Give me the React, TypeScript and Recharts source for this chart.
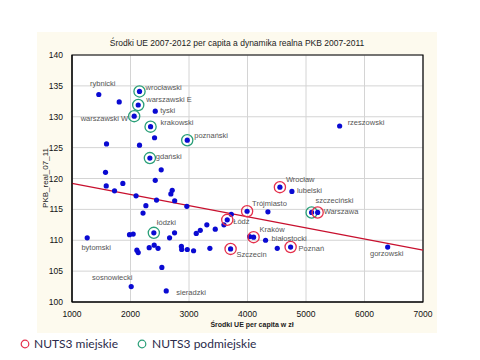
import { ScatterChart, Scatter, XAxis, YAxis, CartesianGrid, ReferenceLine, ReferenceArea, Label } from "recharts"

// labelled NUTS3 regions: m = miejskie, p = podmiejskie, "" = other
const labelNames = [
  "rybnicki", "wrocławski", "warszawski E", "tyski", "warszawski W", "krakowski",
  "poznański", "gdański", "rzeszowski", "łódzki", "bytomski", "sosnowiecki",
  "sieradzki", "Łódź", "Szczecin", "Trójmiasto", "Wrocław", "lubelski",
  "szczeciński", "Warszawa", "Kraków", "białostocki", "Poznań", "gorzowski",
]
const labelSrodki = [
  1458, 2154, 2132, 2423, 2063, 2343,
  2970, 2331, 5575, 2399, 1260, 2012,
  2611, 3654, 3711, 3993, 4554, 4759,
  5096, 5199, 4104, 4309, 4737, 6396,
]
const labelPkb = [
  133.6, 134.1, 131.9, 130.9, 130.1, 128.4,
  126.2, 123.3, 128.5, 111.2, 110.4, 102.5,
  101.8, 113.3, 108.6, 114.7, 118.6, 117.9,
  114.5, 114.5, 110.5, 110.0, 108.9, 108.9,
]
const labelTyp = [
  "", "p", "p", "", "p", "p",
  "p", "p", "", "p", "", "",
  "", "m", "m", "m", "m", "",
  "p", "m", "m", "", "m", "",
]

// remaining regions without labels
const otherSrodki = [
  1807, 2411, 1590, 2154, 2525, 1573, 2423, 1585, 1869, 1727, 2095, 2263,
  2214, 2445, 2713, 2690, 2755, 2963, 1983, 2046, 2753, 2668, 2109, 2132,
  2320, 2405, 2471, 2870, 2875, 2970, 3078, 2536, 3124, 3193, 3305, 3449,
  3597, 3723, 3357, 4036, 4349, 4509,
]
const otherPkb = [
  132.4, 126.6, 125.6, 125.4, 121.4, 121.0, 119.7, 118.8, 119.2, 118.0, 117.2, 115.6,
  114.4, 116.5, 118.1, 117.5, 116.4, 115.5, 110.9, 111.0, 111.2, 110.4, 108.4, 108.0,
  108.8, 109.2, 108.7, 109.0, 108.5, 108.5, 108.3, 105.6, 111.1, 111.6, 112.5, 111.8,
  112.5, 114.2, 108.7, 110.6, 114.6, 108.7,
]

// fitted line end points
const trendX = [1000, 7000]
const trendY = [119.2, 108.4]

const xTicks = [1000, 2000, 3000, 4000, 5000, 6000, 7000]
const yTicks = [100, 105, 110, 115, 120, 125, 130, 135, 140]

// where each label sits relative to its point
const labelPos: Record<string, [number, number, string]> = {
  "rybnicki": [4, -11, "middle"],
  "wrocławski": [6, -3, "start"],
  "warszawski E": [8, -5, "start"],
  "tyski": [5, 0, "start"],
  "warszawski W": [-6, 3, "end"],
  "krakowski": [10, -4, "start"],
  "poznański": [7, -4, "start"],
  "gdański": [6, -1, "start"],
  "rzeszowski": [8, -3, "start"],
  "łódzki": [3, -10, "start"],
  "bytomski": [9, 10, "middle"],
  "sosnowiecki": [-19, -9, "middle"],
  "sieradzki": [10, 2, "start"],
  "Łódź": [6, 2, "start"],
  "Szczecin": [6, 6, "start"],
  "Trójmiasto": [5, -7, "start"],
  "Wrocław": [6, -7, "start"],
  "lubelski": [5, 0, "start"],
  "szczeciński": [4, -11, "start"],
  "Warszawa": [6, 0, "start"],
  "Kraków": [6, -7, "start"],
  "białostocki": [6, -1, "start"],
  "Poznań": [8, 2, "start"],
  "gorzowski": [-1, 7, "middle"],
}

const labelled = labelNames.map((name, i) => ({ name, x: labelSrodki[i], y: labelPkb[i], typ: labelTyp[i] }))
const others = otherSrodki.map((x, i) => ({ x, y: otherPkb[i] }))

const FONT = "'Liberation Sans', Arial, sans-serif"
const BLUE = "#0a0ad2"
const RED = "#e5304c"
const GREEN = "#2a9f78"

function Dot(props: any) {
  const { cx, cy } = props
  return <circle cx={cx} cy={cy} r={2.6} fill={BLUE} />
}

function LabelledDot(props: any) {
  const { cx, cy, payload } = props
  const [dx, dy, anchor] = labelPos[payload.name] || [6, 0, "start"]
  return (
    <g>
      {payload.typ === "m" && <circle cx={cx} cy={cy} r={5.6} fill="none" stroke={RED} strokeWidth={1.3} />}
      {payload.typ === "p" && <circle cx={cx} cy={cy} r={5.6} fill="none" stroke={GREEN} strokeWidth={1.3} />}
      <circle cx={cx} cy={cy} r={2.6} fill={BLUE} />
      <text x={cx + dx} y={cy + dy} textAnchor={anchor} dominantBaseline="middle" fontSize={7.5} fill="#555" fontFamily={FONT}>
        {payload.name}
      </text>
    </g>
  )
}

export default function App() {
  return (
    <div style={{ position: "absolute", left: 0, top: 0, width: 480, height: 360, background: "#fff" }}>
      <div style={{ position: "absolute", left: 37, top: 32, width: 400, height: 301, background: "#fdfaee" }} />
      <div style={{ position: "absolute", left: 37, top: 38, width: 400, textAlign: "center", fontFamily: FONT, fontSize: 8.5, color: "#222" }}>
        Środki UE 2007-2012 per capita a dynamika realna PKB 2007-2011
      </div>
      <div style={{ position: "absolute", left: 0, top: 0 }}>
        <ScatterChart width={480} height={360} margin={{ top: 55, right: 57, bottom: 0, left: 0 }}>
          <CartesianGrid stroke="#d4d4d4" fill="#fff" />
          <XAxis
            type="number"
            dataKey="x"
            domain={[1000, 7000]}
            ticks={xTicks}
            height={58}
            tickLine={false}
            axisLine={{ stroke: "#000" }}
            tick={{ fontSize: 8.5, fill: "#111", fontFamily: FONT }}
            tickMargin={3}
          >
            <Label
              content={() => (
                <text x={252} y={327} textAnchor="middle" fontSize={7} fontWeight={600} fill="#222" fontFamily={FONT}>
                  Środki UE per capita w zł
                </text>
              )}
            />
          </XAxis>
          <YAxis
            type="number"
            dataKey="y"
            domain={[100, 140]}
            ticks={yTicks}
            width={72}
            tickLine={false}
            axisLine={{ stroke: "#000" }}
            tick={{ fontSize: 8.5, fill: "#111", fontFamily: FONT }}
            tickMargin={3}
          >
            <Label
              content={() => (
                <text x={46} y={178} transform="rotate(-90 46 178)" textAnchor="middle" dominantBaseline="middle" fontSize={8} fill="#222" fontFamily={FONT}>
                  PKB_real_07_11
                </text>
              )}
            />
          </YAxis>
          <ReferenceArea x1={1000} x2={7000} y1={100} y2={140} fill="none" fillOpacity={0} stroke="#000" strokeWidth={1.2} />
          <ReferenceLine
            segment={[{ x: trendX[0], y: trendY[0] }, { x: trendX[1], y: trendY[1] }]}
            stroke="#c8102e"
            strokeWidth={1.2}
          />
          <Scatter data={others} shape={Dot} isAnimationActive={false} />
          <Scatter data={labelled} shape={LabelledDot} isAnimationActive={false} />
        </ScatterChart>
      </div>
      <div style={{ position: "absolute", left: 20, top: 336, display: "flex", alignItems: "center", fontFamily: "Lato, sans-serif", fontSize: 12, color: "#2a2a4a" }}>
        <svg width={10} height={10} style={{ marginRight: 4 }}>
          <circle cx={5} cy={5} r={3.8} fill="none" stroke={RED} strokeWidth={1.2} />
        </svg>
        <span style={{ marginRight: 19 }}>NUTS3 miejskie</span>
        <svg width={10} height={10} style={{ marginRight: 5 }}>
          <circle cx={5} cy={5} r={3.8} fill="none" stroke={GREEN} strokeWidth={1.2} />
        </svg>
        <span>NUTS3 podmiejskie</span>
      </div>
    </div>
  )
}
